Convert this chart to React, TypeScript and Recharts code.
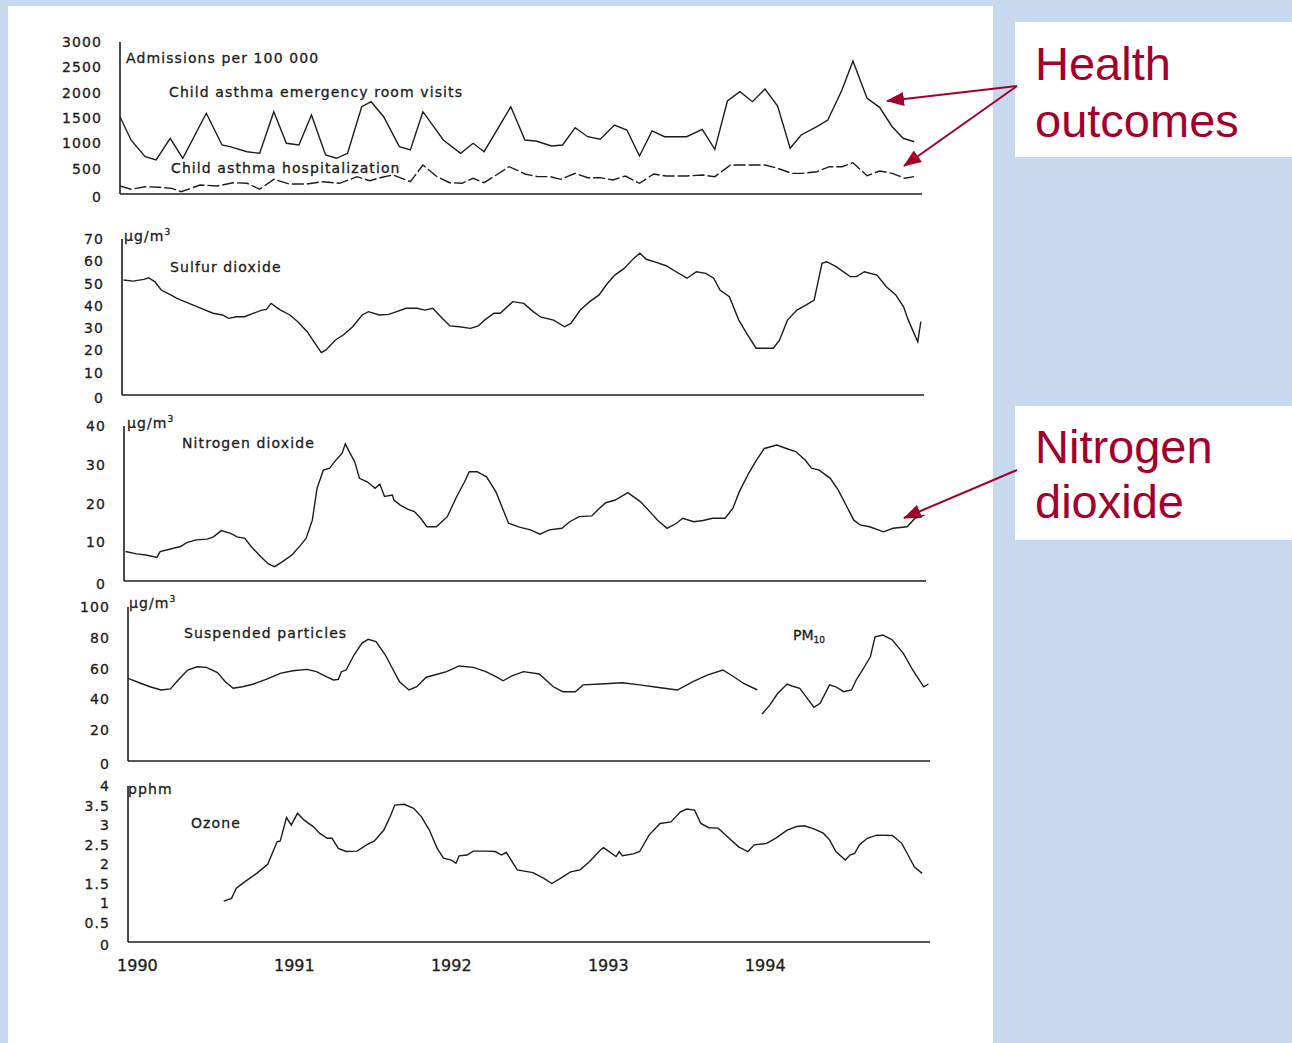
import { Line, LineChart, XAxis, YAxis } from "recharts";

type Point = [number, number]; // [decimal year, value]

// Child asthma, admissions per 100 000 (monthly)
const erVisits: Point[] = [
  [1989.94, 1526], [1990.01, 1066], [1990.1, 736], [1990.17, 671], [1990.26, 1100], [1990.34, 705],
  [1990.49, 1593], [1990.59, 967], [1990.64, 934], [1990.75, 835], [1990.83, 803], [1990.92, 1625],
  [1991.0, 1001], [1991.08, 967], [1991.16, 1559], [1991.25, 770], [1991.32, 705], [1991.39, 803],
  [1991.48, 1723], [1991.54, 1822], [1991.62, 1526], [1991.72, 934], [1991.79, 869], [1991.87, 1625],
  [1992.0, 1066], [1992.11, 803], [1992.19, 1001], [1992.26, 835], [1992.43, 1723], [1992.52, 1066],
  [1992.59, 1046], [1992.69, 948], [1992.76, 967], [1992.84, 1309], [1992.92, 1131], [1993.0, 1080],
  [1993.09, 1362], [1993.17, 1263], [1993.25, 750], [1993.33, 1244], [1993.41, 1131], [1993.55, 1131],
  [1993.65, 1277], [1993.73, 882], [1993.81, 1836], [1993.89, 2019], [1993.97, 1822], [1994.05, 2073],
  [1994.13, 1737], [1994.21, 902], [1994.28, 1165], [1994.38, 1328], [1994.45, 1461], [1994.54, 2053],
  [1994.61, 2625], [1994.7, 1889], [1994.78, 1711], [1994.86, 1328], [1994.93, 1100], [1995.0, 1032],
];

const hospitalizations: Point[] = [
  [1989.94, 158], [1990.01, 93], [1990.1, 144], [1990.19, 132], [1990.27, 112], [1990.33, 45],
  [1990.45, 178], [1990.56, 158], [1990.66, 223], [1990.75, 211], [1990.83, 93], [1990.92, 290],
  [1991.02, 197], [1991.13, 197], [1991.23, 243], [1991.34, 211], [1991.45, 342], [1991.53, 263],
  [1991.61, 330], [1991.68, 375], [1991.79, 243], [1991.87, 572], [1991.96, 342], [1992.04, 223],
  [1992.12, 211], [1992.19, 310], [1992.26, 223], [1992.42, 539], [1992.52, 395], [1992.6, 342],
  [1992.68, 342], [1992.75, 290], [1992.84, 408], [1992.92, 322], [1993.0, 322], [1993.08, 276],
  [1993.16, 355], [1993.25, 211], [1993.34, 395], [1993.42, 355], [1993.55, 355], [1993.65, 375],
  [1993.73, 342], [1993.83, 572], [1994.05, 572], [1994.13, 507], [1994.22, 408], [1994.29, 408],
  [1994.38, 440], [1994.46, 539], [1994.54, 539], [1994.61, 618], [1994.7, 361], [1994.78, 454],
  [1994.86, 408], [1994.94, 310], [1995.0, 342],
];

// µg/m³
const sulfurDioxide: Point[] = [
  [1989.95, 51.6], [1990.01, 51.1], [1990.08, 51.9], [1990.11, 52.6], [1990.15, 50.8], [1990.19, 47.1],
  [1990.25, 44.9], [1990.29, 43.4], [1990.34, 41.9], [1990.39, 40.4], [1990.46, 38.4], [1990.52, 36.7],
  [1990.58, 35.9], [1990.62, 34.4], [1990.67, 35.1], [1990.72, 35.1], [1990.78, 36.7], [1990.83, 38.1],
  [1990.86, 38.4], [1990.89, 41.1], [1990.95, 38.1], [1991.01, 35.9], [1991.06, 32.9], [1991.12, 28.4],
  [1991.17, 23.2], [1991.21, 19.0], [1991.24, 20.2], [1991.3, 24.7], [1991.35, 26.9], [1991.41, 30.6],
  [1991.47, 35.9], [1991.51, 37.4], [1991.58, 35.9], [1991.64, 36.2], [1991.69, 37.4], [1991.75, 38.9],
  [1991.82, 38.9], [1991.87, 38.1], [1991.92, 38.9], [1991.98, 34.4], [1992.03, 31.0], [1992.09, 30.6],
  [1992.16, 29.9], [1992.21, 31.0], [1992.25, 33.6], [1992.31, 36.7], [1992.35, 36.7], [1992.43, 41.9],
  [1992.5, 41.1], [1992.56, 37.4], [1992.61, 34.9], [1992.69, 33.6], [1992.76, 30.6], [1992.8, 32.1],
  [1992.86, 38.1], [1992.92, 41.9], [1992.98, 44.9], [1993.03, 49.8], [1993.08, 53.8], [1993.14, 56.8],
  [1993.2, 61.3], [1993.24, 63.6], [1993.28, 60.9], [1993.35, 59.4], [1993.41, 57.9], [1993.47, 55.3],
  [1993.54, 52.4], [1993.6, 55.3], [1993.66, 54.6], [1993.71, 52.4], [1993.75, 47.1], [1993.81, 44.1],
  [1993.87, 33.6], [1993.92, 27.7], [1993.98, 21.0], [1994.05, 21.0], [1994.09, 21.0], [1994.13, 24.7],
  [1994.18, 33.6], [1994.24, 38.1], [1994.3, 40.4], [1994.35, 42.6], [1994.4, 59.1], [1994.43, 59.8],
  [1994.49, 57.6], [1994.58, 53.1], [1994.62, 53.1], [1994.67, 55.3], [1994.75, 53.8], [1994.81, 48.6],
  [1994.87, 44.9], [1994.92, 39.6], [1994.95, 33.6], [1995.01, 23.9], [1995.03, 32.9],
];

const nitrogenDioxide: Point[] = [
  [1989.95, 7.6], [1990.02, 7.0], [1990.08, 6.7], [1990.15, 6.1], [1990.17, 7.6], [1990.23, 8.2],
  [1990.3, 8.9], [1990.34, 9.9], [1990.4, 10.6], [1990.47, 10.8], [1990.51, 11.4], [1990.56, 13.0],
  [1990.62, 12.3], [1990.66, 11.4], [1990.71, 11.0], [1990.75, 8.9], [1990.81, 6.3], [1990.86, 4.4],
  [1990.9, 3.7], [1990.95, 5.0], [1991.01, 6.7], [1991.06, 9.0], [1991.1, 11.0], [1991.14, 15.7],
  [1991.17, 23.9], [1991.21, 28.6], [1991.25, 29.1], [1991.29, 31.2], [1991.33, 33.0], [1991.35, 35.4],
  [1991.38, 33.0], [1991.41, 30.8], [1991.44, 26.5], [1991.49, 25.6], [1991.54, 23.9], [1991.57, 25.0],
  [1991.6, 21.8], [1991.65, 22.2], [1991.66, 20.9], [1991.7, 19.6], [1991.75, 18.5], [1991.79, 17.9],
  [1991.83, 16.2], [1991.87, 14.0], [1991.93, 14.0], [1992.0, 16.6], [1992.06, 21.8], [1992.11, 25.6],
  [1992.14, 28.2], [1992.19, 28.2], [1992.25, 26.9], [1992.31, 23.0], [1992.39, 14.9], [1992.46, 13.9],
  [1992.53, 13.2], [1992.59, 12.1], [1992.65, 13.2], [1992.73, 13.6], [1992.78, 15.3], [1992.84, 16.6],
  [1992.92, 16.8], [1992.97, 18.8], [1993.01, 20.2], [1993.07, 20.9], [1993.15, 22.8], [1993.23, 20.5],
  [1993.29, 17.9], [1993.34, 15.7], [1993.4, 13.6], [1993.46, 14.9], [1993.5, 16.2], [1993.57, 15.3],
  [1993.63, 15.6], [1993.69, 16.2], [1993.77, 16.2], [1993.82, 18.8], [1993.86, 23.0], [1993.92, 27.8],
  [1993.97, 31.2], [1994.02, 34.2], [1994.1, 35.1], [1994.16, 34.2], [1994.22, 33.4], [1994.28, 31.2],
  [1994.32, 29.1], [1994.37, 28.6], [1994.44, 26.5], [1994.49, 23.5], [1994.54, 19.6], [1994.59, 15.7],
  [1994.63, 14.5], [1994.69, 14.0], [1994.78, 12.7], [1994.84, 13.6], [1994.93, 14.0], [1994.98, 16.2],
  [1995.04, 17.0],
];

const suspendedParticles: Point[] = [
  [1989.94, 53.7], [1990.02, 50.5], [1990.08, 48.2], [1990.15, 46.1], [1990.21, 46.8], [1990.26, 52.6],
  [1990.32, 59.1], [1990.38, 61.2], [1990.44, 60.8], [1990.51, 57.4], [1990.56, 51.5], [1990.61, 47.2],
  [1990.67, 48.2], [1990.74, 50.0], [1990.82, 53.0], [1990.91, 56.9], [1990.99, 58.6], [1991.08, 59.5],
  [1991.14, 58.0], [1991.21, 54.4], [1991.25, 52.6], [1991.28, 53.0], [1991.3, 58.0], [1991.33, 59.1],
  [1991.38, 68.8], [1991.43, 76.4], [1991.47, 79.0], [1991.52, 77.5], [1991.58, 68.8], [1991.63, 59.1],
  [1991.67, 51.5], [1991.73, 46.1], [1991.78, 48.2], [1991.84, 54.4], [1991.91, 56.3], [1991.97, 58.0],
  [1992.05, 61.7], [1992.14, 60.8], [1992.22, 58.0], [1992.29, 54.4], [1992.33, 52.1], [1992.39, 55.5],
  [1992.46, 58.0], [1992.56, 56.5], [1992.65, 48.2], [1992.71, 45.0], [1992.79, 45.0], [1992.84, 49.4],
  [1992.95, 50.0], [1993.09, 50.8], [1993.2, 49.4], [1993.31, 47.9], [1993.44, 46.1], [1993.54, 51.5],
  [1993.63, 55.8], [1993.73, 59.1], [1993.8, 54.7], [1993.86, 50.5], [1993.95, 46.1],
];

const pm10: Point[] = [
  [1993.98, 30.5], [1994.03, 36.4], [1994.08, 44.0], [1994.14, 50.0], [1994.17, 48.7], [1994.22, 47.2],
  [1994.26, 41.8], [1994.31, 34.9], [1994.35, 37.5], [1994.41, 49.4], [1994.45, 48.2], [1994.5, 45.0],
  [1994.55, 46.1], [1994.58, 52.6], [1994.62, 59.1], [1994.67, 67.7], [1994.7, 80.7], [1994.75, 81.8],
  [1994.81, 78.6], [1994.88, 69.9], [1994.94, 59.1], [1995.01, 48.2], [1995.04, 50.0],
];

// pphm
const ozone: Point[] = [
  [1990.55, 1.05], [1990.6, 1.12], [1990.63, 1.38], [1990.69, 1.56], [1990.76, 1.76], [1990.83, 1.99],
  [1990.89, 2.57], [1990.91, 2.59], [1990.95, 3.19], [1990.98, 3.0], [1991.02, 3.3], [1991.06, 3.13],
  [1991.12, 2.96], [1991.16, 2.79], [1991.21, 2.66], [1991.24, 2.66], [1991.28, 2.4], [1991.33, 2.32],
  [1991.4, 2.33], [1991.46, 2.49], [1991.51, 2.59], [1991.57, 2.87], [1991.61, 3.21], [1991.64, 3.51],
  [1991.7, 3.53], [1991.76, 3.43], [1991.81, 3.21], [1991.86, 2.87], [1991.91, 2.4], [1991.95, 2.15],
  [1992.0, 2.1], [1992.03, 2.02], [1992.05, 2.21], [1992.1, 2.23], [1992.14, 2.33], [1992.22, 2.33],
  [1992.28, 2.32], [1992.32, 2.23], [1992.35, 2.3], [1992.42, 1.85], [1992.52, 1.78], [1992.59, 1.63],
  [1992.64, 1.5], [1992.69, 1.62], [1992.76, 1.8], [1992.82, 1.85], [1992.88, 2.06], [1992.95, 2.36],
  [1992.97, 2.42], [1993.05, 2.19], [1993.07, 2.32], [1993.09, 2.21], [1993.16, 2.26], [1993.2, 2.32],
  [1993.26, 2.74], [1993.33, 3.04], [1993.4, 3.08], [1993.46, 3.34], [1993.5, 3.41], [1993.55, 3.38],
  [1993.59, 3.04], [1993.64, 2.93], [1993.7, 2.92], [1993.77, 2.66], [1993.83, 2.44], [1993.89, 2.32],
  [1993.93, 2.49], [1994.01, 2.53], [1994.07, 2.67], [1994.14, 2.87], [1994.2, 2.96], [1994.25, 2.98],
  [1994.31, 2.9], [1994.37, 2.79], [1994.41, 2.62], [1994.45, 2.32], [1994.51, 2.1], [1994.54, 2.23],
  [1994.57, 2.27], [1994.6, 2.49], [1994.65, 2.66], [1994.71, 2.74], [1994.81, 2.73], [1994.87, 2.53],
  [1994.91, 2.23], [1994.95, 1.93], [1995.0, 1.76],
];

const yearTicks = [1990, 1991, 1992, 1993, 1994];
const admissionTicks = [0, 500, 1000, 1500, 2000, 2500, 3000];
const so2Ticks = [0, 10, 20, 30, 40, 50, 60, 70];
const no2Ticks = [0, 10, 20, 30, 40];
const particleTicks = [0, 20, 40, 60, 80, 100];
const ozoneTicks = [0, 0.5, 1, 1.5, 2, 2.5, 3, 3.5, 4];

const X_DOMAIN: [number, number] = [1989.94, 1995.05];
const PLOT_W = 802;
const AXIS_W = 60;
const PAD_TOP = 12;
const PAD_RIGHT = 20;

const INK = "#1c1c1c";
const RED = "#a3002b";
const BLUE = "#c6d9ee";
const FONT = "'DejaVu Sans', 'Liberation Sans', Arial, sans-serif";

// scanned lettering is a touch heavier than a plain regular face
const textStyle = {
  fontFamily: FONT,
  fontSize: 14,
  letterSpacing: 1.1,
  fill: INK,
  stroke: INK,
  strokeWidth: 0.3,
};

const rows = (pts: Point[]) => pts.map(([t, v]) => ({ t, v }));

function ValueTick(props: any) {
  const { x, y, payload } = props;
  return (
    <text x={x} y={y} dy={payload.value === 0 ? 8 : 5} textAnchor="end" style={textStyle}>
      {String(payload.value)}
    </text>
  );
}

function YearTick(props: any) {
  const { x, y, payload } = props;
  return (
    <text x={x} y={y} dy={13} textAnchor="middle" style={{ ...textStyle, fontSize: 16, letterSpacing: 0 }}>
      {String(payload.value)}
    </text>
  );
}

type Series = { data: Point[]; dash?: string };

function Panel({
  axisX,
  plotTop,
  plotH,
  ticks,
  series,
  showYears = false,
}: {
  axisX: number;
  plotTop: number;
  plotH: number;
  ticks: number[];
  series: Series[];
  showYears?: boolean;
}) {
  const xAxisH = showYears ? 34 : 14;
  return (
    <div style={{ position: "absolute", left: axisX - AXIS_W, top: plotTop - PAD_TOP }}>
      <LineChart
        width={AXIS_W + PLOT_W + PAD_RIGHT}
        height={PAD_TOP + plotH + xAxisH}
        margin={{ top: PAD_TOP, right: PAD_RIGHT, bottom: 0, left: 0 }}
      >
        <XAxis
          type="number"
          dataKey="t"
          domain={X_DOMAIN}
          allowDataOverflow
          ticks={yearTicks}
          interval={0}
          height={xAxisH}
          axisLine={{ stroke: INK, strokeWidth: 1.3 }}
          tickLine={false}
          tickSize={0}
          tickMargin={16}
          tick={showYears ? YearTick : false}
        />
        <YAxis
          type="number"
          domain={[0, ticks[ticks.length - 1]]}
          ticks={ticks}
          interval={0}
          width={AXIS_W}
          axisLine={{ stroke: INK, strokeWidth: 1.6 }}
          tickLine={false}
          tickSize={0}
          tickMargin={18}
          tick={ValueTick}
        />
        {series.map((s, i) => (
          <Line
            key={i}
            data={rows(s.data)}
            dataKey="v"
            type="linear"
            stroke={INK}
            strokeWidth={1.4}
            strokeDasharray={s.dash}
            dot={false}
            activeDot={false}
            isAnimationActive={false}
          />
        ))}
      </LineChart>
    </div>
  );
}

function Arrow({ x1, y1, x2, y2 }: { x1: number; y1: number; x2: number; y2: number }) {
  return <line x1={x1} y1={y1} x2={x2} y2={y2} stroke={RED} strokeWidth={2} markerEnd="url(#redHead)" />;
}

export default function App() {
  return (
    <div style={{ position: "absolute", left: 0, top: 0, width: 1292, height: 1043, background: BLUE, overflow: "hidden" }}>
      <div style={{ position: "absolute", left: 8, top: 6, width: 985, height: 1037, background: "#fff" }} />

      <Panel axisX={120} plotTop={42} plotH={152} ticks={admissionTicks}
        series={[{ data: erVisits }, { data: hospitalizations, dash: "12 3" }]} />
      <Panel axisX={122} plotTop={239} plotH={156} ticks={so2Ticks} series={[{ data: sulfurDioxide }]} />
      <Panel axisX={124} plotTop={426} plotH={155} ticks={no2Ticks} series={[{ data: nitrogenDioxide }]} />
      <Panel axisX={128} plotTop={607} plotH={154} ticks={particleTicks}
        series={[{ data: suspendedParticles }, { data: pm10 }]} />
      <Panel axisX={128} plotTop={786} plotH={156} ticks={ozoneTicks} series={[{ data: ozone }]} showYears />

      <svg width={1292} height={1043} style={{ position: "absolute", left: 0, top: 0, pointerEvents: "none" }}>
        <defs>
          <marker id="redHead" markerWidth={18} markerHeight={14} refX={17} refY={7} orient="auto" markerUnits="userSpaceOnUse">
            <path d="M0,0 L18,7 L0,14 Z" fill={RED} />
          </marker>
        </defs>

        <g style={textStyle}>
          <text x={126} y={63}>Admissions per 100 000</text>
          <text x={169} y={97}>Child asthma emergency room visits</text>
          <text x={171} y={173}>Child asthma hospitalization</text>

          <text x={124} y={241}>μg/m<tspan fontSize={9} dy={-6}>3</tspan></text>
          <text x={170} y={272}>Sulfur dioxide</text>

          <text x={127} y={428}>μg/m<tspan fontSize={9} dy={-6}>3</tspan></text>
          <text x={182} y={448}>Nitrogen dioxide</text>

          <text x={129} y={608}>μg/m<tspan fontSize={9} dy={-6}>3</tspan></text>
          <text x={184} y={638}>Suspended particles</text>
          <text x={793} y={640} style={{ letterSpacing: 0 }}>PM<tspan fontSize={9} dy={3}>10</tspan></text>

          <text x={128} y={794}>pphm</text>
          <text x={191} y={828}>Ozone</text>
        </g>

        <rect x={1015} y={22} width={277} height={135} fill="#fff" />
        <rect x={1015} y={406} width={277} height={134} fill="#fff" />
        <g style={{ fontFamily: "'Liberation Sans', Arial, sans-serif", fontSize: 47, fill: RED }}>
          <text x={1035} y={80}>Health</text>
          <text x={1035} y={137}>outcomes</text>
          <text x={1035} y={463}>Nitrogen</text>
          <text x={1035} y={518}>dioxide</text>
        </g>

        <Arrow x1={1017} y1={86} x2={887} y2={101} />
        <Arrow x1={1017} y1={86} x2={904} y2={166} />
        <Arrow x1={1017} y1={470} x2={904} y2={518} />
      </svg>
    </div>
  );
}
